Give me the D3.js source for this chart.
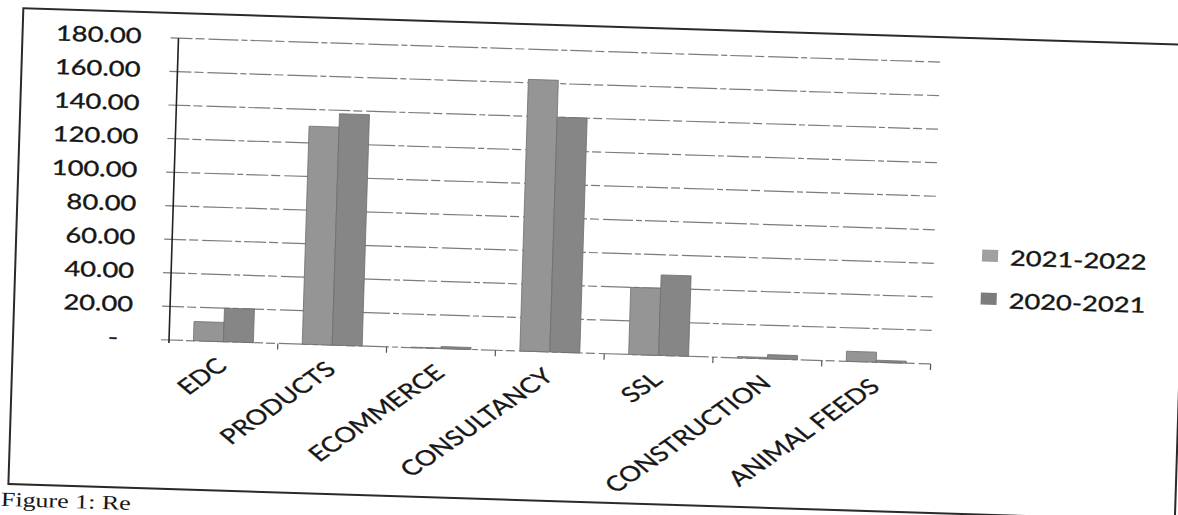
<!DOCTYPE html>
<html>
<head>
<meta charset="utf-8">
<script src="https://cdn.jsdelivr.net/npm/d3@7"></script>
<style>
  html, body { margin: 0; padding: 0; background: #fff; }
  svg { display: block; }
</style>
</head>
<body>
<svg id="chart" width="1178" height="515"></svg>
<script>
// Revenue by business line, two financial years
const categories = ["EDC", "PRODUCTS", "ECOMMERCE", "CONSULTANCY", "SSL", "CONSTRUCTION", "ANIMAL FEEDS"];
const seriesNames = ["2021-2022", "2020-2021"];
const values2021_2022 = [11.5, 130, 0.3, 162, 40, 0.8, 6];
const values2020_2021 = [20, 138, 1.2, 140, 48, 2.5, 1.2];
const yTickValues = [0, 20, 40, 60, 80, 100, 120, 140, 160, 180];
const seriesColors = ["#959595", "#868686"];

const seriesValues = [values2021_2022, values2020_2021];
const rows = categories.map((c, i) => ({
  category: c,
  values: seriesNames.map((s, j) => ({ series: s, value: seriesValues[j][i] }))
}));

const svg = d3.select("#chart");
svg.append("rect").attr("width", 1178).attr("height", 515).attr("fill", "#fff");

// whole page sits slightly tilted
const page = svg.append("g").attr("transform", "rotate(1.8,169,340)");

const textStretch = 1.3;
const fontFamily = "Lato, 'Open Sans', sans-serif";
const inkColor = "#161616";

// outer frame
page.append("rect")
  .attr("x", 13).attr("y", 13).attr("width", 1167).attr("height", 476)
  .attr("fill", "none").attr("stroke", "#2a2a2a").attr("stroke-width", 2);

const plot = { left: 169, right: 931, top: 38, bottom: 340 };

const x = d3.scaleBand()
  .domain(categories)
  .range([plot.left, plot.right])
  .paddingInner(0.449)
  .paddingOuter(0.2245);

const xSub = d3.scaleBand()
  .domain(seriesNames)
  .range([0, x.bandwidth()]);

const y = d3.scaleLinear().domain([0, 180]).range([plot.bottom, plot.top]);

// gridlines (with short outward ticks on the left)
page.append("g").selectAll("line")
  .data(yTickValues)
  .join("line")
  .attr("x1", plot.left - 8).attr("x2", plot.right)
  .attr("y1", d => y(d)).attr("y2", d => y(d))
  .attr("stroke", "#666").attr("stroke-width", 1.2)
  .attr("stroke-dasharray", "22,3,9,4,30,3,6,3")
  .attr("opacity", 0.85);

// category tick marks below the baseline
const step = x.step();
const boundaries = d3.range(categories.length + 1).map(i => plot.left + i * step);
page.append("g").selectAll("line")
  .data(boundaries.slice(1))
  .join("line")
  .attr("x1", d => d).attr("x2", d => d)
  .attr("y1", plot.bottom).attr("y2", plot.bottom + 6)
  .attr("stroke", "#555").attr("stroke-width", 1.2);

// bars
const groups = page.append("g").selectAll("g")
  .data(rows)
  .join("g")
  .attr("transform", d => `translate(${x(d.category)},0)`);

groups.selectAll("rect")
  .data(d => d.values)
  .join("rect")
  .attr("x", d => xSub(d.series))
  .attr("width", xSub.bandwidth())
  .attr("y", d => y(d.value))
  .attr("height", d => y(0) - y(d.value))
  .attr("fill", (d, i) => seriesColors[i])
  .attr("stroke", "#6e6e6e")
  .attr("stroke-width", 0.8);

// y axis line
page.append("line")
  .attr("x1", plot.left).attr("x2", plot.left)
  .attr("y1", plot.top).attr("y2", plot.bottom + 3)
  .attr("stroke", "#222").attr("stroke-width", 1.6);

// y tick labels (accounting style: zero shown as a dash)
const fmt = d3.format(".2f");
page.append("g").selectAll("text")
  .data(yTickValues)
  .join("text")
  .attr("transform", d => `translate(${d === 0 ? 118 : 132},${y(d) - 2}) scale(${textStretch},1)`)
  .attr("text-anchor", "end")
  .attr("dominant-baseline", "central")
  .attr("font-family", fontFamily)
  .attr("font-size", 21)
  .attr("fill", inkColor)
  .attr("stroke", inkColor).attr("stroke-width", 0.35)
  .text(d => d === 0 ? "-" : fmt(d));

// category labels
page.append("g").selectAll("text")
  .data(categories)
  .join("text")
  .attr("transform", d => `translate(${x(d) + x.bandwidth() / 2 - 9},${plot.bottom + 14}) scale(${textStretch},1) rotate(-44)`)
  .attr("text-anchor", "end")
  .attr("dominant-baseline", "hanging")
  .attr("font-family", fontFamily)
  .attr("font-size", 21)
  .attr("fill", inkColor)
  .attr("stroke", inkColor).attr("stroke-width", 0.3)
  .text(d => d);

// legend
const legend = page.append("g").selectAll("g")
  .data(seriesNames)
  .join("g")
  .attr("transform", (d, i) => `translate(979,${230 + i * 43})`);

legend.append("rect")
  .attr("x", 0).attr("y", -6)
  .attr("width", 16).attr("height", 12)
  .attr("fill", (d, i) => i === 0 ? "#a0a0a0" : "#7c7c7c");

legend.append("text")
  .attr("transform", `translate(28,1) scale(${textStretch},1)`)
  .attr("dominant-baseline", "central")
  .attr("font-family", fontFamily)
  .attr("font-size", 21)
  .attr("fill", inkColor)
  .attr("stroke", inkColor).attr("stroke-width", 0.35)
  .text(d => d);

// figure caption below the frame
page.append("text")
  .attr("transform", `translate(6,511) scale(${textStretch},1)`)
  .attr("font-family", "'Liberation Serif', 'DejaVu Serif', serif")
  .attr("font-size", 20)
  .attr("fill", inkColor)
  .text("Figure 1: Re");
</script>
</body>
</html>
